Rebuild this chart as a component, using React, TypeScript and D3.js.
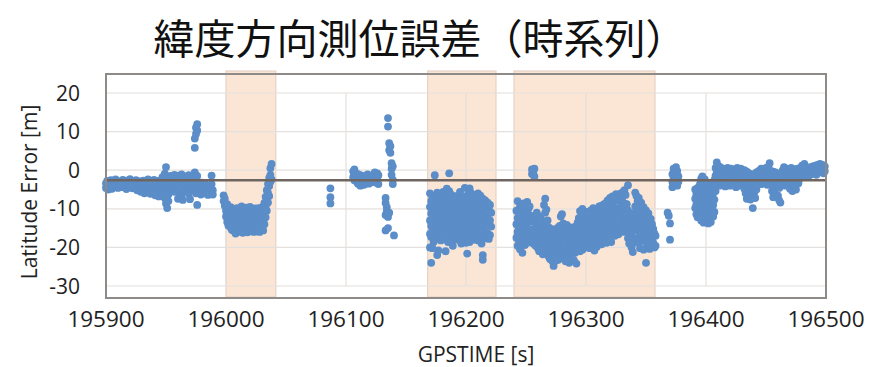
import React from "react";
import * as d3 from "d3";

// GPS time [s] and latitude error samples [m]; each row is [time, ...errors at that time]
const runStart: number[][] = [
  [195900, -3.4, -4.6], [195901, -2.8, -4.1], [195902, -3.6, -5.0], [195904, -2.6, -4.3],
  [195905, -3.2, -4.8], [195907, -3.0, -4.0], [195908, -2.4, -3.7], [195910, -3.3, -4.6],
  [195911, -2.9], [195913, -3.5, -4.4], [195914, -2.5], [195916, -3.1, -4.2],
  [195917, -2.7, -4.9], [195919, -3.4], [195920, -2.3, -4.0], [195922, -3.0, -4.7],
  [195923, -3.6], [195925, -2.6, -4.1], [195926, -3.3, -5.2], [195928, -2.9, -4.4],
  [195929, -3.8, -5.6], [195931, -2.7, -4.8], [195932, -3.4, -6.0], [195934, -3.1, -5.0],
  [195935, -2.4, -4.3], [195937, -3.6, -6.1], [195938, -3.0, -5.4], [195940, -2.5, -4.7],
  [195941, -3.3, -6.5], [195943, -2.8, -5.2], [195944, -3.9, -6.8], [195946, -2.6, -4.5],
  [195947, -1.8, -3.8, -5.9], [195949, -0.9, -3.0, -7.2], [195950, 0.8, -2.2, -5.0, -8.6],
  [195951, -1.6, -4.4, -9.8], [195952, -2.9, -6.3, -8.0], [195954, -1.5, -3.6],
  [195955, -2.4, -4.9], [195957, -1.2, -3.1, -5.6], [195958, -2.0, -4.2],
  [195960, -1.4, -3.5, -7.4], [195961, -2.6, -5.8], [195963, -1.1, -3.0, -6.6],
  [195964, -2.2, -4.4, -7.7], [195966, -1.6, -3.7], [195967, -2.9, -5.3],
  [195969, -1.3, -4.0, -6.1], [195970, -2.5, -7.5], [195972, -1.9, -3.3, -5.0],
  [195974, -0.6, -4.4, 5.8, 8.2], [195975, -2.8, -6.0, 9.4, 11.0], [195976, -1.5, -9.0, 10.3, 11.9],
  [195977, -3.6, -5.2], [195979, -4.0, -6.3], [195980, -3.2, -5.5], [195982, -4.4, -6.0],
  [195983, -3.7, -5.1], [195985, -4.9, -6.4], [195986, -4.2], [195988, -1.4, -3.6],
  [195989, -5.2, -6.3],
];

const runFirstShade: number[][] = [
  [195998, -6.5, -8.0], [195999, -9.2, -7.4], [196000, -10.5, -12.0],
  [196001, -8.8, -11.3, -13.4], [196002, -10.0, -12.6, -14.3], [196003, -11.5, -13.8],
  [196004, -9.6, -12.2, -14.9], [196005, -10.8, -13.1, -15.5], [196006, -12.0, -14.2],
  [196007, -10.2, -13.5, -15.8], [196008, -11.4, -14.6, -16.4], [196009, -9.8, -12.8, -15.1],
  [196010, -11.0, -13.9, -16.0], [196011, -12.3, -14.8], [196012, -10.4, -13.2, -15.6],
  [196013, -9.4, -11.9, -14.4], [196014, -11.1, -13.6, -16.2], [196015, -10.0, -12.4, -15.0],
  [196016, -11.8, -14.1], [196017, -9.7, -12.9, -15.4], [196018, -11.3, -13.8, -16.1],
  [196019, -10.5, -12.7, -14.9], [196020, -9.5, -12.1, -15.3], [196021, -11.6, -14.3],
  [196022, -10.2, -12.8, -15.7], [196023, -11.0, -13.5, -16.0], [196024, -9.9, -12.3, -14.7],
  [196025, -11.4, -13.9, -15.9], [196026, -10.6, -12.6, -15.2], [196027, -9.8, -12.0, -14.5],
  [196028, -11.2, -13.7, -16.0], [196029, -10.3, -12.9, -15.4], [196030, -9.6, -11.7, -14.1],
  [196031, -10.8, -13.3, -15.6], [196032, -8.5, -11.0, -14.0], [196033, -6.9, -9.4, -12.2],
  [196034, -5.2, -7.8, -10.5], [196035, -3.6, -5.9, -8.4], [196036, -2.0, -4.1, -6.7],
  [196037, -1.2, -3.0, 0.5], [196038, 1.6, -2.4],
];

const runMiddle: number[][] = [
  [196087, -4.7, -7.0, -8.6],
  [196106, -0.3, -1.8], [196107, 0.2, -1.2, -2.6], [196108, -0.8, -2.2], [196109, -1.5, -3.0],
  [196110, -1.0, -2.4, -3.5], [196111, -1.9, -3.2], [196112, -1.3, -2.7, -4.0], [196113, -2.0, -3.4],
  [196114, -1.6, -2.9], [196115, -2.3, -3.8], [196116, -1.4, -2.6], [196117, -2.0, -3.3],
  [196118, -1.1, -2.8], [196119, -1.8, -3.5], [196120, -2.5, -3.0], [196121, -1.4, -2.2],
  [196122, -1.9, -3.1], [196123, -1.2, -2.5], [196124, -0.6, -2.0], [196125, -1.5, -3.2],
  [196126, -0.8, -2.4], [196127, -1.3, -3.6],
  [196135, 13.5, 11.3], [196136, 7.0, 5.2], [196137, 6.2, 4.5], [196138, 1.8, 0.4, -1.2],
  [196139, -2.5, -3.6, 1.0], [196133, -7.2, -8.5], [196134, -9.6, -10.6], [196133, -11.6],
  [196135, -12.1, -10.9], [196136, -11.0], [196133, -15.6], [196135, -15.0], [196140, -16.9],
];

const runSecondShade: number[][] = [
  [196170, -6.0, -9.5, -13.0, -16.5, -20.0], [196171, -8.0, -11.2, -14.4, -17.3, -24.0],
  [196172, -7.2, -10.4, -15.6, -20.2], [196173, -9.0, -12.6, -16.0, -18.6],
  [196174, -6.6, -11.0, -14.2, -17.8, -1.3], [196175, -8.4, -12.0, -15.2],
  [196176, -5.8, -9.6, -13.4, -17.0, -22.0], [196177, -7.6, -11.6, -15.8, -20.8],
  [196178, -9.2, -13.0, -16.6], [196179, -6.8, -10.8, -14.6, -18.2], [196180, -8.2, -12.4, -16.2],
  [196181, -5.6, -9.9, -13.8, -17.4], [196182, -7.4, -11.4, -15.4], [196183, -6.2, -10.2, -14.0, -17.8, -21.0],
  [196184, -4.8, -8.6, -12.8, -16.4], [196185, -7.0, -11.0, -15.0, -18.6], [196186, -5.4, -9.4, -13.6, -17.2, -0.8],
  [196187, -7.8, -12.2, -16.0], [196188, -6.4, -10.6, -14.8, -18.4], [196189, -8.8, -12.8, -16.8, -19.6],
  [196190, -7.2, -11.6, -15.6], [196191, -9.6, -13.4, -17.4], [196192, -8.0, -12.0, -16.2],
  [196193, -6.6, -10.4, -14.4, -18.0], [196194, -8.4, -12.6, -16.6], [196195, -5.6, -9.8, -13.8, -17.6],
  [196196, -7.6, -11.8, -15.8, -19.0], [196197, -9.2, -13.2, -17.0], [196198, -6.8, -10.8, -14.6],
  [196199, -4.6, -8.6, -12.4, -16.4], [196200, -7.0, -11.2, -15.2, -18.8], [196201, -9.4, -13.6, -17.4, -21.6],
  [196202, -6.2, -10.0, -14.0], [196203, -8.2, -12.2, -16.2, -18.6, -4.7], [196204, -5.8, -9.6, -13.4, -17.0],
  [196205, -7.8, -11.8, -15.6], [196206, -6.4, -10.4, -14.4, -18.0], [196207, -8.6, -12.8, -16.8],
  [196208, -7.0, -11.0, -15.0], [196209, -9.0, -13.0, -17.2], [196210, -6.0, -10.2, -14.2, -18.2],
  [196211, -8.0, -12.0, -16.0], [196212, -6.6, -10.8, -14.8], [196213, -8.8, -12.6, -16.6, -19.0],
  [196214, -7.4, -11.4, -15.4, -22.0, -23.2], [196215, -9.4, -13.4, -17.2], [196216, -7.8, -11.8, -15.8],
  [196217, -9.8, -13.8, -17.6], [196218, -8.4, -12.4, -16.4], [196219, -10.0, -14.0, -17.8],
  [196220, -9.0, -13.0, -16.8], [196221, -11.0, -14.6],
];

const runThirdShade: number[][] = [
  [196242, -10.5, -14.0, -17.5], [196243, -8.0, -12.4, -16.0, -19.6], [196244, -11.0, -14.8, -18.2],
  [196245, -9.4, -13.2, -17.0, -20.5], [196246, -12.0, -15.6, -19.0], [196247, -10.2, -14.4, -18.6, -21.4],
  [196248, -8.6, -12.8, -16.4], [196249, -11.6, -15.2, -19.4], [196250, -9.0, -13.6, -17.6],
  [196251, -8.2, -11.4, -15.0, -18.8], [196252, -10.0, -13.4, -17.0], [196253, -9.4, -12.6, -16.2],
  [196254, -11.8, -15.4, -18.4], [196255, -13.0, -16.6, 0.2, -1.0], [196256, -12.2, -15.8, -19.0, -0.6],
  [196257, -13.6, -17.2, 0.4, -1.6], [196258, -12.4, -16.0, -19.6], [196259, -11.0, -14.4, -17.8],
  [196260, -12.8, -16.4, -20.2], [196261, -14.0, -17.6, -21.0], [196262, -12.0, -15.2, -18.8],
  [196263, -13.4, -16.8, -20.4], [196264, -14.6, -18.2, -21.8], [196265, -9.0, -13.2, -17.0, -20.6],
  [196266, -7.4, -11.0, -15.8, -19.4], [196267, -10.2, -14.2, -18.6], [196268, -13.0, -17.4, -21.2],
  [196269, -14.8, -18.8, -22.4], [196270, -16.0, -19.6, -23.0], [196271, -15.2, -18.4, -21.6],
  [196272, -16.4, -20.0, -23.6], [196273, -17.2, -20.8, -24.8], [196274, -15.6, -19.2, -22.6],
  [196275, -16.8, -20.4, -23.4], [196276, -15.0, -18.8, -22.0], [196277, -16.2, -19.8, -23.2],
  [196278, -14.4, -18.0, -21.4], [196279, -12.0, -15.8, -19.4, -22.8], [196280, -11.4, -16.6, -20.6],
  [196281, -13.8, -17.4, -21.0], [196282, -15.4, -19.2, -22.4], [196283, -16.6, -20.2, -23.6],
  [196284, -14.2, -18.0, -21.8], [196285, -15.8, -19.6, -22.8], [196286, -16.8, -20.4, -24.0],
  [196287, -14.8, -18.6, -22.2], [196288, -16.0, -19.8, -23.0], [196289, -15.0, -18.4, -21.6],
  [196290, -16.4, -20.0, -23.4], [196291, -14.6, -18.2, -21.4], [196292, -15.8, -19.4, -24.2],
  [196293, -13.6, -17.2, -20.8], [196294, -12.4, -16.0, -19.6], [196295, -10.6, -14.4, -18.2, -21.0],
  [196296, -12.0, -15.6, -19.4], [196297, -10.0, -13.8, -17.6, -20.6], [196298, -11.6, -15.2, -18.8],
  [196299, -13.0, -16.6, -20.0], [196300, -10.8, -14.4, -18.0], [196301, -12.2, -16.0, -19.6],
  [196302, -11.0, -14.8, -18.4], [196303, -12.8, -16.4, -20.2], [196304, -10.4, -14.0, -17.8],
  [196305, -11.8, -15.4, -19.0], [196306, -9.8, -13.6, -17.2], [196307, -11.2, -15.0, -18.6, -20.8],
  [196308, -10.0, -13.8, -17.4], [196309, -12.4, -16.2, -19.8], [196310, -10.6, -14.2, -18.0],
  [196311, -9.4, -13.0, -16.6], [196312, -11.0, -14.8, -18.4], [196313, -9.2, -12.8, -16.4, -19.2],
  [196314, -10.8, -14.4, -18.0], [196315, -8.8, -12.4, -16.0], [196316, -10.2, -13.8, -17.6],
  [196317, -8.4, -12.0, -15.6, -18.8], [196318, -7.8, -11.4, -15.0], [196319, -9.6, -13.2, -16.8],
  [196320, -7.2, -10.8, -14.6], [196321, -8.8, -12.6, -16.2, -18.6], [196322, -6.8, -10.4, -14.0],
  [196323, -8.2, -11.8, -15.4], [196324, -7.0, -10.6, -14.2, -17.0], [196325, -6.2, -9.8, -13.4],
  [196326, -7.6, -11.2, -14.8], [196327, -6.6, -10.2, -13.8, -16.6], [196328, -8.0, -11.6, -15.2],
  [196329, -6.0, -9.6, -13.2], [196330, -7.4, -11.0, -14.6], [196331, -5.6, -9.2, -12.8, -16.0],
  [196332, -5.2, -8.6, -12.2], [196333, -6.4, -9.8, -13.4], [196334, -8.8, -12.2, -15.8],
  [196335, -3.9, -10.4, -14.0, -17.6], [196336, -12.0, -15.6, -19.0], [196337, -11.2, -14.8, -18.6],
  [196338, -12.6, -16.2, -20.0], [196339, -13.8, -17.4, -21.2], [196340, -11.6, -15.0, -18.8],
  [196341, -5.8, -9.4, -13.0], [196342, -6.6, -10.2, -14.4, -17.8], [196343, -8.0, -11.8, -15.6],
  [196344, -7.2, -11.0, -14.8, -18.6], [196345, -9.0, -12.8, -16.6, -20.2], [196346, -8.4, -12.2, -16.0],
  [196347, -10.2, -14.0, -17.8], [196348, -9.6, -13.4, -17.2, -20.6], [196349, -11.0, -14.8, -18.4],
  [196350, -10.4, -14.2, -17.8, -24.0], [196351, -12.0, -15.8, -19.2], [196352, -11.2, -15.0, -18.8],
  [196353, -13.4, -17.0, -20.4], [196354, -12.6, -16.4, -19.8], [196355, -14.0, -17.6],
  [196356, -15.2, -18.8], [196357, -16.4, -20.0], [196358, -17.0, -19.6],
];

const runRecovery: number[][] = [
  [196368, -11.0], [196369, -11.8], [196370, -13.8, -18.0],
  [196372, -1.0, -3.0, -4.4], [196373, 0.4, -2.0, -3.6], [196374, -0.6, -2.6],
  [196375, 0.8, -1.4, -3.2], [196376, -0.2, -2.2, -4.0], [196377, -1.6, -3.0],
  [196391, -5.0, -7.4, -9.8], [196392, -6.2, -8.8, -11.4], [196393, -4.6, -7.0, -9.6, -12.2],
  [196394, -5.6, -8.2, -10.8], [196395, -3.6, -6.4, -9.2, -12.0], [196396, -2.2, -5.0, -7.8, -10.6, -13.0],
  [196397, -1.6, -4.2, -7.0, -9.8], [196398, -3.0, -5.8, -8.6, -11.4, -13.6], [196399, -2.4, -6.6, -10.2],
  [196400, -4.0, -7.4, -11.0, -13.2], [196401, -3.4, -6.0, -9.0, -12.4], [196402, -4.8, -7.8, -10.8, -13.8],
  [196403, -3.8, -6.8, -9.6, -12.8], [196404, -5.4, -8.4, -11.6, -13.4], [196405, -4.4, -7.2, -10.4],
  [196406, -3.2, -6.0, -9.0, -12.0], [196407, -2.6, -4.8, -7.6, -10.8], [196408, -1.8, -3.6, -5.4],
];

const runEnd: number[][] = [
  [196408, 0.6, -1.4, -3.2], [196409, 2.0, -0.4, -2.6], [196410, 1.2, -1.0, -3.6], [196411, -0.2, -2.2, -4.0],
  [196412, 0.8, -1.6, -3.4], [196413, -0.6, -2.8], [196414, 0.4, -1.8, -3.8], [196415, -1.0, -3.0],
  [196416, 0.2, -2.0, -4.2], [196417, -0.8, -2.6], [196418, 0.6, -1.4, -3.4], [196419, -1.2, -3.2],
  [196420, -0.4, -2.4, -4.0], [196421, 0.4, -1.6], [196422, -0.8, -2.8, -3.8], [196423, -1.4, -3.4],
  [196424, 0.0, -2.0], [196425, -0.6, -2.6, -4.4], [196426, 0.6, -1.8], [196427, -1.0, -3.0],
  [196428, -0.2, -2.2, -4.0], [196429, 0.4, -1.4], [196430, -0.8, -3.0], [196431, -1.6, -3.6],
  [196432, 0.0, -2.4, -4.8], [196433, -1.2, -3.8, -6.0], [196434, -0.4, -2.8, -5.4, -7.4],
  [196435, -1.8, -4.4, -6.8], [196436, -0.8, -3.2, -5.8], [196437, -2.2, -4.8, -7.6],
  [196438, -1.2, -3.6, -6.4], [196439, -2.6, -5.2, -9.8], [196440, -1.0, -3.4, -6.0],
  [196441, -2.0, -4.6, -7.2], [196442, -0.6, -2.8, -5.0], [196443, -1.6, -3.8], [196444, -0.2, -2.4],
  [196445, -1.0, -3.2], [196446, 0.4, -1.8, -3.6], [196447, -0.8, -2.6], [196448, 0.2, -2.0, -3.4],
  [196449, -1.2, -3.0], [196450, 0.6, -1.6], [196451, -0.4, -2.4, -3.8], [196452, 0.8, -1.2],
  [196453, 1.8, -0.6, -2.6], [196454, -0.2, -2.0, -3.8], [196455, -1.0, -3.2, -5.4],
  [196456, -0.4, -2.6, -7.0], [196457, -1.4, -3.6, -5.8], [196458, -0.6, -2.8], [196459, -1.8, -4.0],
  [196460, -1.0, -3.0, -6.6], [196461, -2.0, -4.6, -7.8], [196462, -0.8, -3.4, -8.4], [196463, -1.4, -2.6],
  [196464, 0.0, -2.0, -3.6], [196465, 0.8, -1.2], [196466, -0.4, -2.6, -4.0], [196467, 0.4, -1.6],
  [196468, -0.6, -2.8], [196469, 0.2, -1.8, -3.6], [196470, -0.8, -3.0, -4.8], [196471, 0.6, -1.4],
  [196472, -0.2, -2.4, -5.4], [196473, -1.0, -3.2], [196474, 0.2, -2.0, -4.4], [196475, -0.6, -2.8, -5.0],
  [196476, 0.4, -1.6], [196477, -1.2, -3.4], [196478, 0.0, -2.2], [196479, 0.6, -1.0],
  [196480, 1.2, -0.4, -1.6], [196481, 0.6, -1.0], [196482, 1.6, 0.0, -1.4], [196483, 0.8, -0.8],
  [196484, 0.2, -1.2], [196485, 0.6, -0.6], [196486, 0.0, -1.4], [196487, 0.8, -0.4],
  [196488, 0.2, -1.0], [196489, 1.0, -0.2], [196490, 0.4, -0.8], [196491, 1.2, 0.0],
  [196492, 0.6, -1.2], [196493, 1.4, 0.2], [196494, 0.8, -0.6], [196495, 1.6, 0.4],
  [196496, 1.0, -0.4], [196497, 1.4, 0.0], [196498, 0.6, -0.8], [196499, 1.0, -0.2],
];

// Shaded intervals [start, end] in GPS time
const shadedPeriods: [number, number][] = [
  [196000, 196041.5],
  [196168, 196225],
  [196240, 196357.5],
];

const meanError = -2.6;
const xTicks = [195900, 196000, 196100, 196200, 196300, 196400, 196500];
const yTicks = [20, 10, 0, -10, -20, -30];

const title = "緯度方向測位誤差（時系列）";
const xTitle = "GPSTIME [s]";
const yTitle = "Latitude Error [m]";

const W = 869;
const H = 367;
const plotLeft = 106;
const plotRight = 826;
const plotTop = 74;
const plotBottom = 298;

export default function App() {
  const x = d3.scaleLinear().domain([195900, 196500]).range([plotLeft, plotRight]);
  const y = d3.scaleLinear().domain([-30, 20]).range([286, 93]);

  const points: { t: number; v: number }[] = [];
  [runStart, runFirstShade, runMiddle, runSecondShade, runThirdShade, runRecovery, runEnd].forEach((run) =>
    run.forEach(([t, ...vals]) => vals.forEach((v) => points.push({ t, v })))
  );

  const latinFont = "'Open Sans', 'Noto Sans', sans-serif";

  return (
    <svg
      width={W}
      height={H}
      style={{ position: "absolute", left: 0, top: 0, background: "#fff" }}
    >
      <rect x={0} y={0} width={W} height={H} fill="#ffffff" />

      {/* shaded periods */}
      {shadedPeriods.map(([s, e], i) => (
        <rect
          key={`sh${i}`}
          x={x(s)}
          y={plotTop - 3}
          width={x(e) - x(s)}
          height={plotBottom - plotTop + 2}
          fill="#fbe6d6"
          stroke="#e6d3c6"
          strokeWidth={1.2}
        />
      ))}

      {/* horizontal grid */}
      {yTicks.map((v) => (
        <line key={`gy${v}`} x1={plotLeft} x2={plotRight} y1={y(v)} y2={y(v)} stroke="#e4e0dd" strokeWidth={1.2} />
      ))}
      {/* vertical grid */}
      {xTicks.slice(1, -1).map((t) => (
        <line key={`gx${t}`} x1={x(t)} x2={x(t)} y1={y(20)} y2={y(-30)} stroke="#e4e0dd" strokeWidth={1.2} />
      ))}

      {/* samples */}
      <g fill="#5b8dc8">
        {points.map((p, i) => (
          <circle key={i} cx={x(p.t)} cy={y(p.v)} r={3.9} />
        ))}
      </g>

      {/* mean error line */}
      <line x1={plotLeft} x2={plotRight} y1={y(meanError)} y2={y(meanError)} stroke="#6f6661" strokeWidth={2.4} />

      {/* plot frame */}
      <rect
        x={plotLeft}
        y={plotTop}
        width={plotRight - plotLeft}
        height={plotBottom - plotTop}
        fill="none"
        stroke="#8d8a88"
        strokeWidth={2}
      />

      {/* y tick labels */}
      {yTicks.map((v) => (
        <text
          key={`ly${v}`}
          x={80}
          y={y(v)}
          dy="0.36em"
          textAnchor="end"
          fontFamily={latinFont}
          fontSize={21}
          fill="#222"
        >
          {v}
        </text>
      ))}

      {/* x tick labels */}
      {xTicks.map((t) => (
        <text
          key={`lx${t}`}
          x={x(t)}
          y={327}
          textAnchor="middle"
          fontFamily={latinFont}
          fontSize={22.5}
          fill="#222"
        >
          {t}
        </text>
      ))}

      {/* axis titles */}
      <text x={476} y={362} textAnchor="middle" fontFamily={latinFont} fontSize={21} fill="#222">
        {xTitle}
      </text>
      <text
        transform={`translate(37, 192) rotate(-90)`}
        textAnchor="middle"
        fontFamily={latinFont}
        fontSize={21}
        fill="#222"
      >
        {yTitle}
      </text>

      {/* chart title */}
      <text
        x={420}
        y={54}
        textAnchor="middle"
        fontFamily="'Noto Sans CJK JP', 'Noto Sans CJK SC', sans-serif"
        fontSize={41}
        fill="#111"
      >
        {title}
      </text>
    </svg>
  );
}
